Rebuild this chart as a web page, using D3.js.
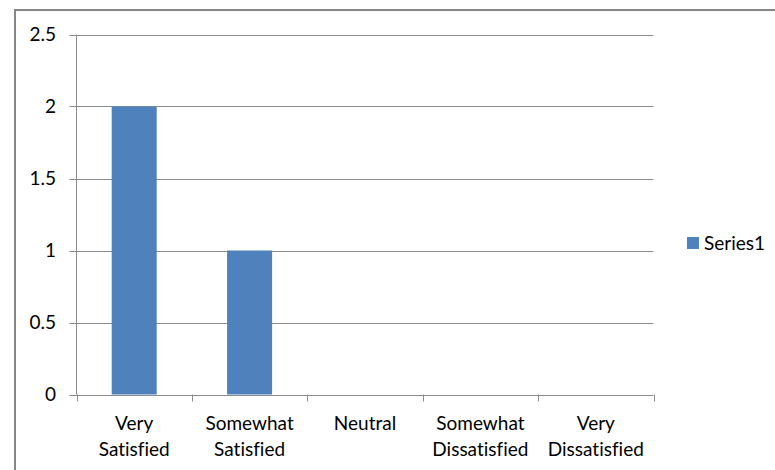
<!DOCTYPE html>
<html><head><meta charset="utf-8">
<script src="https://cdn.jsdelivr.net/npm/d3@7"></script>
<style>html,body{margin:0;padding:0;background:#fff;}svg{display:block;}text{font-variant-ligatures:none;}</style>
</head><body>
<script>
const categories = [["Very","Satisfied"],["Somewhat","Satisfied"],["Neutral"],["Somewhat","Dissatisfied"],["Very","Dissatisfied"]];
const series1 = [2, 1, 0, 0, 0];
const yTicks = [0, 0.5, 1, 1.5, 2, 2.5];
const seriesName = "Series1";

(function () {
const W = 775, H = 470;
const svg = d3.select("body").append("svg").attr("width", W).attr("height", H);
const font = "Lato, 'Open Sans', sans-serif";
const fs = 19;

svg.append("rect").attr("x", 15).attr("y", 10).attr("width", W).attr("height", H)
  .attr("fill", "#fff").attr("stroke", "#868686").attr("stroke-width", 2);

const pLeft = 76.5, pRight = 653.5, pTop = 34.5, pBottom = 394.5;
const x = d3.scaleBand().domain(d3.range(categories.length)).range([pLeft, pRight]).paddingInner(0.61).paddingOuter(0.305);
const xCat = d3.scaleBand().domain(d3.range(categories.length)).range([pLeft, pRight]);
const y = d3.scaleLinear().domain([0, 2.5]).range([pBottom, pTop]);

svg.append("g").selectAll("line").data(yTicks).join("line")
  .attr("x1", pLeft - 7).attr("x2", pRight)
  .attr("y1", d => Math.round(y(d)) + 0.5).attr("y2", d => Math.round(y(d)) + 0.5)
  .attr("stroke", "#8c8c8c").attr("stroke-width", 1);

svg.append("line").attr("x1", pLeft).attr("x2", pLeft).attr("y1", pTop).attr("y2", pBottom)
  .attr("stroke", "#8c8c8c");

svg.append("g").selectAll("rect").data(series1).join("rect")
  .attr("x", (d, i) => x(i)).attr("width", x.bandwidth())
  .attr("y", d => y(d)).attr("height", d => y(0) - y(d))
  .attr("fill", "#4f81bd");

const xt = d3.range(categories.length + 1).map(i => i < categories.length ? xCat(i) : pRight);
svg.append("g").selectAll("line").data(xt).join("line")
  .attr("x1", d => Math.round(d) + 0.5).attr("x2", d => Math.round(d) + 0.5)
  .attr("y1", pBottom).attr("y2", pBottom + 7).attr("stroke", "#8c8c8c");

svg.append("g").selectAll("text").data(yTicks).join("text")
  .attr("x", 56).attr("y", d => y(d)).attr("dy", "0.36em")
  .attr("text-anchor", "end").attr("font-family", font).attr("font-size", fs).attr("fill", "#000")
  .text(d => d);

const xl = svg.append("g").selectAll("text").data(categories).join("text")
  .attr("text-anchor", "middle").attr("font-family", font).attr("font-size", fs).attr("fill", "#000")
  .attr("x", (d, i) => xCat(i) + xCat.bandwidth() / 2).attr("y", 430);
xl.selectAll("tspan").data(d => d).join("tspan")
  .attr("x", function () { return this.parentNode.getAttribute("x"); })
  .attr("dy", (d, i) => i === 0 ? 0 : 26).text(d => d);

svg.append("rect").attr("x", 687).attr("y", 237).attr("width", 12).attr("height", 12).attr("fill", "#4f81bd");
svg.append("text").attr("x", 704).attr("y", 249.5).attr("font-family", font).attr("font-size", fs)
  .attr("fill", "#000").text(seriesName);
})();
</script>
</body></html>
